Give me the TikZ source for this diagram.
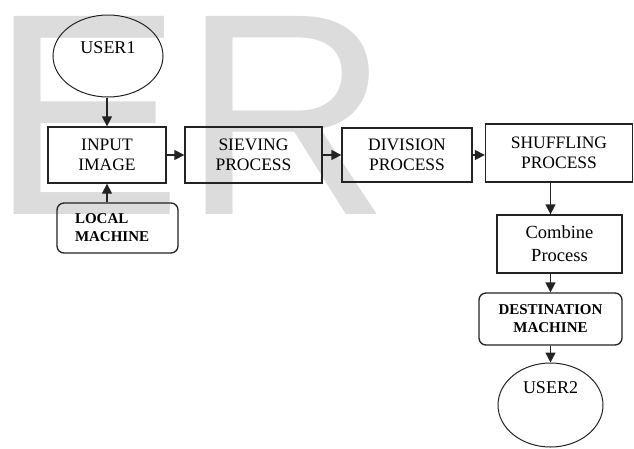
\documentclass[tikz,border=0pt]{standalone}
\usepackage{fontspec}
\setmainfont{Liberation Serif}
\newfontfamily\wmfont{Liberation Sans}
\usetikzlibrary{shapes.geometric,arrows.meta}
\definecolor{wm}{RGB}{220,220,220}
\definecolor{ln}{RGB}{35,35,35}
\tikzset{
  box/.style={draw=ln, line width=1.3pt, minimum height=56pt, align=center, inner sep=2pt,
    font=\fontsize{17.5}{20}\selectfont},
  rbox/.style={box, rounded corners=7pt, font=\bfseries\fontsize{15}{18}\selectfont},
  user/.style={draw=ln, line width=1pt, ellipse, inner sep=0pt,
    font=\fontsize{18}{20}\selectfont, text height=12pt},
  arr/.style={draw=ln, line width=1.3pt, -{Triangle[length=10pt,width=10pt]}}
}
\begin{document}
\begin{tikzpicture}[x=1pt,y=-1pt]
\useasboundingbox (0,0) rectangle (634,448);
\fill[white] (0,0) rectangle (634,448);
% watermark
\node[anchor=base west, inner sep=0pt, text=wm] (wmark) at (-10,214)
  {\wmfont\fontsize{288}{288}\selectfont ER};
% nodes
\node[user, minimum width=110pt, minimum height=82pt, text depth=18pt] (u1) at (108,56) {USER1};
\node[box, minimum width=118pt] (in) at (107,155) {INPUT\\IMAGE};
\node[box, minimum width=137pt] (sv) at (253.5,155) {SIEVING\\PROCESS};
\node[box, minimum width=130pt, minimum height=54pt] (dv) at (407,155) {DIVISION\\PROCESS};
\node[box, minimum width=147pt, minimum height=58pt] (sh) at (559,153) {SHUFFLING\\PROCESS};
\node[box, minimum width=125pt, minimum height=58pt, font=\fontsize{18.5}{23}\selectfont] (cb) at (559.5,244) {Combine\\Process};
\node[rbox, minimum width=143pt, minimum height=52pt] (ds) at (550.5,319) {DESTINATION\\MACHINE};
\node[rbox, minimum height=50pt, inner xsep=18pt, text width=85pt, align=left] (lc) at (117.5,228) {LOCAL\\MACHINE};
\node[user, minimum width=105pt, minimum height=84pt, text depth=36pt] (u2) at (550.5,405) {USER2};
% connectors
\draw[arr] (in.north |- u1.south) -- (in.north);
\draw[arr] (lc.north -| in.south) -- (in.south);
\draw[arr] (in.east) -- (sv.west);
\draw[arr] (sv.east) -- (dv.west);
\draw[arr] (dv.east) -- (dv.east -| sh.west);
\draw[arr] (sh.south -| ds.north) -- (cb.north -| ds.north);
\draw[arr] (cb.south -| ds.north) -- (ds.north);
\draw[arr] (ds.south) -- (u2.north);
\end{tikzpicture}
\end{document}
